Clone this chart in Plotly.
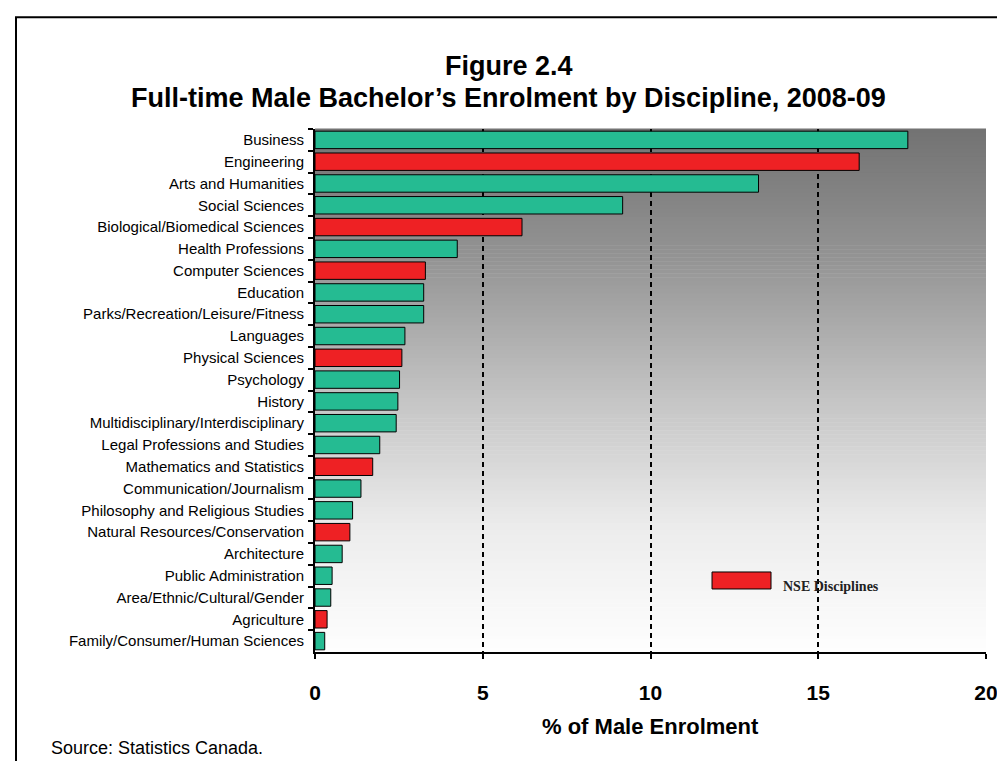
import plotly.graph_objects as go

# data
disciplines = [
    "Business",
    "Engineering",
    "Arts and Humanities",
    "Social Sciences",
    "Biological/Biomedical Sciences",
    "Health Professions",
    "Computer Sciences",
    "Education",
    "Parks/Recreation/Leisure/Fitness",
    "Languages",
    "Physical Sciences",
    "Psychology",
    "History",
    "Multidisciplinary/Interdisciplinary",
    "Legal Professions and Studies",
    "Mathematics and Statistics",
    "Communication/Journalism",
    "Philosophy and Religious Studies",
    "Natural Resources/Conservation",
    "Architecture",
    "Public Administration",
    "Area/Ethnic/Cultural/Gender",
    "Agriculture",
    "Family/Consumer/Human Sciences",
]
male_share = [
    17.67, 16.22, 13.22, 9.17, 6.17, 4.24, 3.29, 3.24, 3.24, 2.68, 2.59, 2.52,
    2.47, 2.42, 1.93, 1.72, 1.37, 1.12, 1.04, 0.81, 0.51, 0.47, 0.36, 0.29,
]
nse_disciplines = [
    "Engineering",
    "Biological/Biomedical Sciences",
    "Computer Sciences",
    "Physical Sciences",
    "Mathematics and Statistics",
    "Natural Resources/Conservation",
    "Agriculture",
]
x_ticks = [0, 5, 10, 15, 20]

GREEN = "#25BB92"
RED = "#EE2124"
FONT = "Arial, Liberation Sans, sans-serif"

colors = [RED if d in nse_disciplines else GREEN for d in disciplines]

fig = go.Figure()
fig.add_trace(
    go.Bar(
        x=male_share,
        y=disciplines,
        orientation="h",
        marker=dict(color=colors, line=dict(color="black", width=1)),
        showlegend=False,
    )
)

# vertical grey gradient behind the plot area (dark at top, white at bottom)
grad_stops = [(0.0, 114), (0.25, 148), (0.51, 195), (0.76, 236), (1.0, 254)]


def grey_at(t):
    for (t0, g0), (t1, g1) in zip(grad_stops[:-1], grad_stops[1:]):
        if t <= t1:
            g = g0 + (g1 - g0) * (t - t0) / (t1 - t0)
            return f"rgb({g:.0f},{g:.0f},{g:.0f})"
    return "rgb(254,254,254)"


n_strips = 130
shapes = []
for i in range(n_strips):
    t = (i + 0.5) / n_strips
    shapes.append(
        dict(
            type="rect", xref="paper", yref="paper",
            x0=0, x1=1, y0=1 - (i + 1) / n_strips, y1=1 - i / n_strips + 0.001,
            fillcolor=grey_at(t), line=dict(width=0), layer="below",
        )
    )

# outer frame
shapes.append(
    dict(type="rect", xref="paper", yref="paper",
         x0=-0.4456, x1=1.1, y0=-0.5, y1=1.2136,
         line=dict(color="black", width=2), fillcolor="rgba(0,0,0,0)", layer="above")
)
# legend key box
shapes.append(
    dict(type="rect", xref="paper", yref="paper",
         x0=0.5917, x1=0.6796, y0=0.1205, y1=0.153,
         line=dict(color="black", width=1), fillcolor=RED, layer="above")
)

annotations = [
    dict(text="<b>Figure 2.4</b>", xref="paper", yref="paper", x=0.289, y=(644 - 58) / 523,
         xanchor="center", yanchor="middle", showarrow=False,
         font=dict(family=FONT, size=27, color="black")),
    dict(text="<b>Full-time Male Bachelor’s Enrolment by Discipline, 2008-09</b>",
         xref="paper", yref="paper", x=0.289, y=(644 - 90) / 523,
         xanchor="center", yanchor="middle", showarrow=False,
         font=dict(family=FONT, size=27, color="black")),
    dict(text="<b>% of Male Enrolment</b>", xref="paper", yref="paper", x=0.5007, y=-0.1428,
         xanchor="center", yanchor="middle", showarrow=False,
         font=dict(family=FONT, size=22, color="black")),
    dict(text="Source: Statistics Canada.", xref="paper", yref="paper", x=-0.397, y=-0.1836,
         xanchor="left", yanchor="middle", showarrow=False,
         font=dict(family=FONT, size=18, color="black")),
    dict(text="<b>NSE Disciplines</b>", xref="paper", yref="paper", x=0.6945, y=0.126,
         xanchor="left", yanchor="middle", showarrow=False,
         font=dict(family="Times New Roman, Liberation Serif, serif", size=14, color="#222")),
]

fig.update_layout(
    width=1005,
    height=761,
    margin=dict(l=307, r=27, t=121, b=117),
    paper_bgcolor="white",
    plot_bgcolor="white",
    bargap=0.2,
    shapes=shapes,
    annotations=annotations,
    font=dict(family=FONT, color="black"),
)
fig.update_xaxes(
    range=[0, 20],
    tickvals=x_ticks,
    ticks="outside",
    ticklen=5,
    tickcolor="black",
    tickwidth=1.5,
    tickfont=dict(family=FONT, size=21, color="black", weight="bold"),
    ticklabelstandoff=16,
    showline=True,
    linecolor="black",
    linewidth=2,
    showgrid=True,
    gridcolor="black",
    gridwidth=1.5,
    griddash="5px,4px",
    zeroline=False,
    fixedrange=True,
)
fig.update_yaxes(
    autorange="reversed",
    ticks="outside",
    tickson="boundaries",
    ticklen=5,
    tickcolor="black",
    tickwidth=1.5,
    tickfont=dict(family=FONT, size=15, color="black"),
    ticklabelstandoff=6,
    showline=True,
    linecolor="black",
    linewidth=2,
    showgrid=False,
    fixedrange=True,
)

fig.write_html("out.html")
